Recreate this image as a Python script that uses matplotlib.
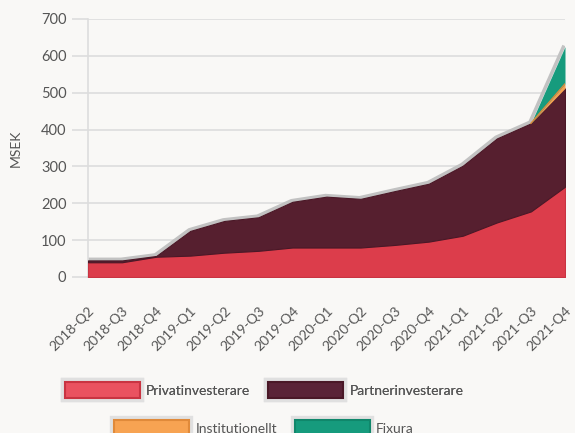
import matplotlib
matplotlib.use("Agg")
from matplotlib import pyplot as plt
from matplotlib.patches import Patch
import matplotlib.patheffects as pe
import numpy as np

quarters = ["2018-Q2", "2018-Q3", "2018-Q4", "2019-Q1", "2019-Q2", "2019-Q3", "2019-Q4",
            "2020-Q1", "2020-Q2", "2020-Q3", "2020-Q4", "2021-Q1", "2021-Q2", "2021-Q3", "2021-Q4"]
privat = [40, 40, 55, 58, 66, 71, 80, 80, 80, 87, 96, 112, 148, 178, 245]
partner = [5, 5, 2, 67, 86, 91, 124, 138, 132, 146, 157, 190, 228, 239, 267]
institutionellt = [0, 0, 0, 0, 0, 0, 0, 0, 0, 0, 0, 0, 0, 0, 12]
fixura = [0, 0, 0, 0, 0, 0, 0, 0, 0, 0, 0, 0, 0, 0, 101]

names = ["Privatinvesterare", "Partnerinvesterare", "Institutionellt", "Fixura"]
colors = ["#dc3d4b", "#561f2f", "#f5a04f", "#169b7d"]
edges = ["#c93442", "#4a1827", "#e08a3a", "#10876b"]
legend_faces = ["#ea5260", "#5a2337", "#f7a352", "#169b7d"]

bg = "#f9f8f6"
txt = "#555555"
grid = "#dddddd"

plt.rcParams['font.family'] = ['Lato', 'DejaVu Sans']

fig = plt.figure(figsize=(5.75, 4.33), dpi=100, facecolor=bg)
ax = fig.add_axes([88/575, 1-277/433, 477/575, 258/433], facecolor=bg)

x = np.arange(len(quarters))
series = [privat, partner, institutionellt, fixura]
total = np.sum(series, axis=0)

# shadow-like gray line on top of the stack
ax.plot(x - 0.03, total + 3, color="#c2c2c2", lw=2.5, zorder=2, solid_capstyle="butt")

polys = ax.stackplot(x, *series, colors=colors, zorder=3)
for p, ec, s in zip(polys, edges, series):
    p.set_edgecolor(ec)
    # no edge for layers that are zero most of the time
    p.set_linewidth(0.8 if min(s) > 0 else 0)

# thin orange line where Institutionellt appears
lower = np.array(privat) + np.array(partner)
mask = x >= len(x) - 2
ax.plot(x[mask], (lower + np.array(institutionellt))[mask], color="#e08a3a", lw=1, zorder=4)

ax.set_xlim(0, len(quarters) - 1)
ax.set_ylim(0, 700)
ax.set_yticks(range(0, 701, 100))
ax.set_xticks(x)
ax.set_xticklabels(quarters, rotation=45, ha="right", rotation_mode="anchor")

ax.grid(axis="y", color=grid, lw=1.2, zorder=0)
ax.set_axisbelow(True)
for s in ["top", "right"]:
    ax.spines[s].set_visible(False)
ax.spines["left"].set_color(grid)
ax.spines["left"].set_linewidth(1.2)
ax.spines["bottom"].set_color("#cccccc")
ax.spines["bottom"].set_linewidth(1.2)

ax.tick_params(axis="y", length=11.5, width=1.2, color=grid, pad=4, labelsize=10.5, labelcolor=txt)
ax.tick_params(axis="x", length=0, pad=20, labelsize=10, labelcolor=txt)
ax.set_ylabel("MSEK", color=txt, fontsize=10, labelpad=14)

handles = []
for n, f, e in zip(names, legend_faces, edges):
    h = Patch(facecolor=f, edgecolor=e, lw=1.5, label=n,
              path_effects=[pe.Stroke(linewidth=6, foreground="#e0e0e0"), pe.Normal()])
    handles.append(h)

leg1 = fig.legend(handles[:2], names[:2], loc="center", bbox_to_anchor=(264/575, 1-390/433),
                  ncol=2, frameon=False, handlelength=5.4, handleheight=1.4,
                  handletextpad=0.45, columnspacing=1.3, fontsize=10, labelcolor=txt)
leg2 = fig.legend(handles[2:], names[2:], loc="center", bbox_to_anchor=(264/575, 1-428/433),
                  ncol=2, frameon=False, handlelength=5.4, handleheight=1.4,
                  handletextpad=0.45, columnspacing=1.3, fontsize=10, labelcolor=txt)
fig.add_artist(leg1)

fig.savefig("out.png", dpi=100, facecolor=bg)
